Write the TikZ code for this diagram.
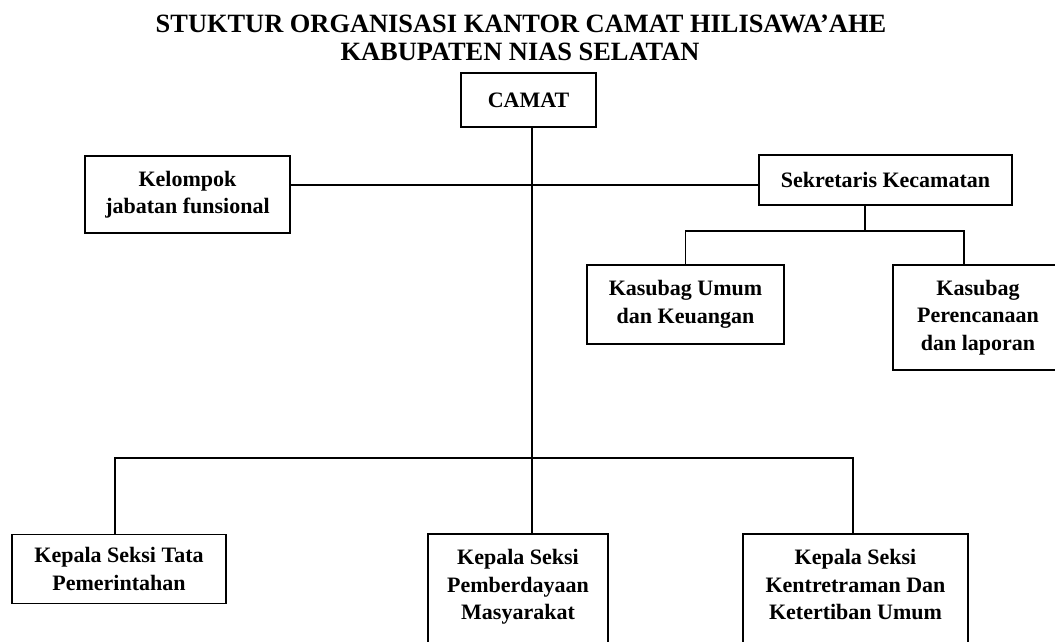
\documentclass[tikz,border=0pt]{standalone}
\usepackage{fontspec}
\setmainfont{Liberation Serif}
\begin{document}
\begin{tikzpicture}[x=1pt,y=-1pt]
\tikzstyle{every node}+=[inner sep=0pt]
\tikzstyle{box}=[draw=black, line width=1.8pt, align=center, font=\bfseries\fontsize{22}{27.5}\selectfont]
\tikzstyle{line}=[draw=black, line width=1.8pt]
\useasboundingbox (0,0) rectangle (1055,641);
\clip (0,0) rectangle (1055,641);
% judul
\node (judul1) at (521,24) {\bfseries\fontsize{26.4}{28}\selectfont STUKTUR ORGANISASI KANTOR CAMAT HILISAWA’AHE};
\node (judul2) at (520,52) {\bfseries\fontsize{26.4}{28}\selectfont KABUPATEN NIAS SELATAN};
% kotak
\node [box, minimum width=135, minimum height=54] (camat) at (528.5,100) {CAMAT};
\node [box, minimum width=205, minimum height=77] (kelompok) at (187.5,194.5) {Kelompok\\jabatan funsional};
\node [box, minimum width=253, minimum height=50] (sekcam) at (885.5,180) {Sekretaris Kecamatan};
\node [box, minimum width=197, minimum height=79] (umum) at (685.5,304.5) {Kasubag Umum\\dan Keuangan};
\node [box, minimum width=170, minimum height=105] (renlap) at (978,317.5) {Kasubag\\Perencanaan\\dan laporan};
\node [box, minimum width=214, minimum height=69] (tapem) at (119,569) {Kepala Seksi Tata\\Pemerintahan};
\node [box, anchor=north, inner ysep=15.5, minimum width=180] (pmd) at (518,533) {Kepala Seksi\\Pemberdayaan\\Masyarakat\\\mbox{}};
\node [box, anchor=north, inner ysep=15.5, minimum width=225] (trantib) at (855.5,533) {Kepala Seksi\\Kentretraman Dan\\Ketertiban Umum\\\mbox{}};
% garis
\coordinate (spine) at (532,0);
\coordinate (lvl1) at (0,185);
\coordinate (bus2) at (865,231);
\coordinate (drop2) at (964,231);
\coordinate (drop3a) at (115,458);
\coordinate (drop3b) at (853,458);
\draw [line] (camat.south -| spine) -- (pmd.north -| spine);
\draw [line] (kelompok.east |- lvl1) -- (sekcam.west |- lvl1);
\draw [line] (sekcam.south -| bus2) -- (bus2);
\draw [line] (umum.north) |- (drop2) -- (drop2 |- renlap.north);
\draw [line] (drop3a |- tapem.north) -- (drop3a) -- (drop3b) -- (drop3b |- trantib.north);
\end{tikzpicture}
\end{document}
